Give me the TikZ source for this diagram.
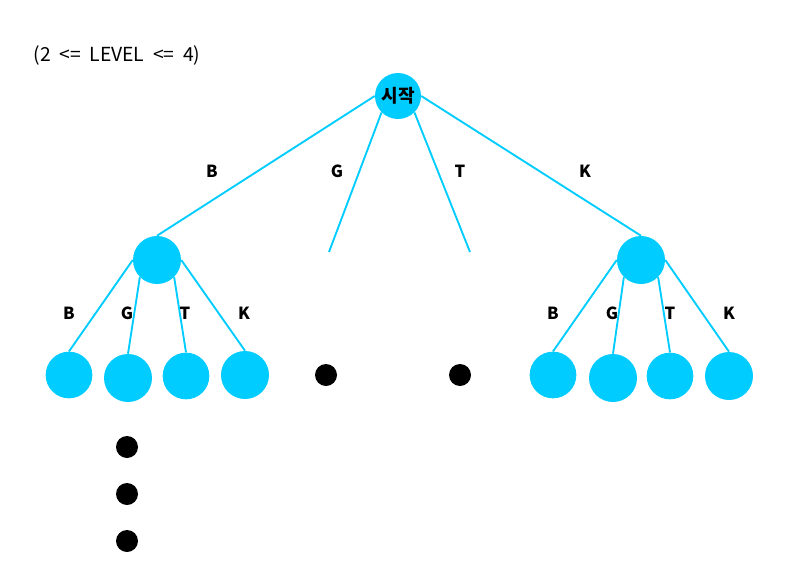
\documentclass[tikz,border=0pt]{standalone}
\usepackage{fontspec}
\setmainfont{Noto Sans CJK KR}
\usepackage{xcolor}
\definecolor{trie}{RGB}{0,204,255}
\tikzset{
  knot/.style={circle,fill=trie,inner sep=0pt,minimum size=#1},
  knot/.default=46pt,
  dotnode/.style={circle,fill=black,inner sep=0pt,minimum size=16.5pt},
  edge/.style={draw=trie,line width=1.4pt},
  letter/.style={inner sep=0.75pt,font=\bfseries\fontsize{12.5}{14}\selectfont}
}
\begin{document}
\begin{tikzpicture}[x=0.75pt,y=0.75pt,yscale=-1,xscale=1]
\useasboundingbox (0,0) rectangle (807,582);

% root and level 1
\node[knot=34.5pt,font=\bfseries\fontsize{13.5}{15}\selectfont] (root) at (398,96) {시작};
\node[knot=36pt] (l) at (157,260) {};
\node[knot=36pt] (r) at (641,260) {};
\coordinate (g) at (329,252);
\coordinate (t) at (470,252);

% leaves, left
\node[knot=35pt] (lb) at (69,375) {};
\node[knot=36pt] (lg) at (128,378) {};
\node[knot=35pt] (lt) at (186,376) {};
\node[knot=36pt] (lk) at (245,375) {};
% leaves, right
\node[knot=35pt] (rb) at (553,375) {};
\node[knot=36pt] (rg) at (613,378) {};
\node[knot=35pt] (rt) at (670,376) {};
\node[knot=36pt] (rk) at (729,376) {};

% black dots
\node[dotnode] (dg) at (326,375) {};
\node[dotnode] (dt) at (460,375) {};
\node[dotnode] (d1) at (127,447) {};
\node[dotnode] (d2) at (127,494) {};
\node[dotnode] (d3) at (127,541) {};

% edges
\draw[edge] (root.west) -- (l.north);
\draw[edge] (root.south west) -- (g);
\draw[edge] (root.south east) -- (t);
\draw[edge] (root.east) -- (r.north);

\draw[edge] (l.west) -- (lb.north);
\draw[edge] (l.south west) -- (lg.north);
\draw[edge] (l.south east) -- (lt.north);
\draw[edge] (l.east) -- (lk.north);

\draw[edge] (r.west) -- (rb.north);
\draw[edge] (r.south west) -- (rg.north);
\draw[edge] (r.south east) -- (rt.north);
\draw[edge] (r.east) -- (rk.north);

% Text Node
\node[inner sep=0.75pt,font=\fontsize{14.5}{16}\selectfont] (range) at (117,55) {(2 \ <= \ LEVEL \ <= \ 4)};

% edge letters
\node[letter] (eb) at (212,171) {B};
\node[letter] (eg) at (337,171) {G};
\node[letter] (et) at (460,171) {T};
\node[letter] (ek) at (585,171) {K};
\foreach \x/\c in {69/B,127/G,185/T,244/K,553/B,612/G,670/T,729/K}
  \node[letter] (s\x) at (\x,313) {\c};
\end{tikzpicture}
\end{document}
